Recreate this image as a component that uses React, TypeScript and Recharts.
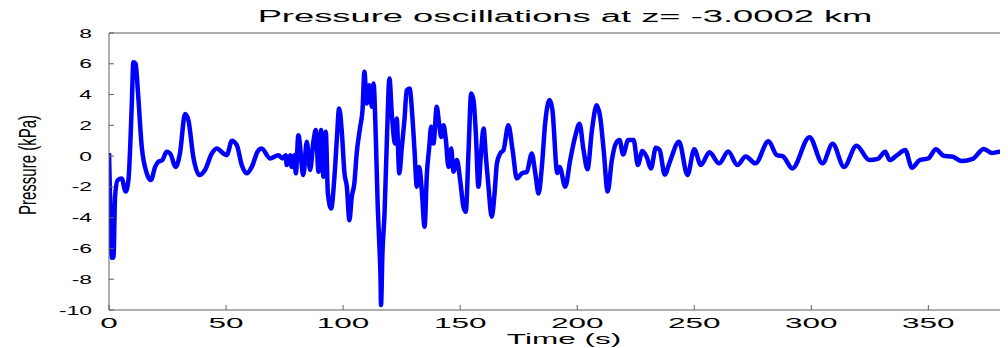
import React from "react";
import { LineChart, Line, XAxis, YAxis } from "recharts";

// Pressure trace (time in s, pressure in kPa)
const timeSec = [
  0, 0.5, 1.2, 1.9, 2.6, 3.7, 5.4, 7.1, 8.3, 9.7, 10.4, 11.4, 12.3, 14, 16.1, 17.9,
  19.7, 21.1, 22.8, 24.6, 26.1, 28.5, 30.3, 32.5, 33.9, 36, 38.6, 41, 43.9, 46, 48.9,
  50.3, 52.5, 54.6, 56.7, 58.8, 61, 63.5, 65.2, 68.8, 72.4, 74.1, 75.5, 75.9, 77.4, 78,
  79.2, 79.8, 80.9, 83, 84.5, 85.9, 87.3, 88.3, 89.5, 90.6, 91.6, 92.6, 93.5, 94.9, 96.3,
  97.3, 98.3, 99.4, 100.6, 101.6, 102.7, 103.7, 104.8, 105.8, 107.3, 108.3, 109.1, 110.1,
  111.2, 112.3, 113, 114, 114.8, 115.4, 116, 116.2, 116.8, 117.7, 118.7, 119.8, 120.8,
  122.2, 122.9, 124, 125.1, 126.2, 127.2, 128.4, 129.6, 130.5, 131.5, 132.5, 133.6,
  134.8, 135.8, 136.8, 137.6, 138.6, 140, 141, 141.9, 142.9, 143.9, 145, 146.2, 147.1,
  148.6, 150, 151.4, 152.4, 153.6, 154.7, 155.7, 156.7, 157.8, 159, 160, 161, 162.1,
  163.5, 164.7, 165.7, 167.1, 168.5, 170.6, 172.4, 174.2, 176.4, 178.5, 180.6, 182.1,
  183.5, 184.9, 186.3, 188.2, 189.4, 191.5, 192.5, 194.9, 197, 199.1, 201, 202.7, 204.4,
  206.3, 208.3, 209.8, 211.3, 213, 214.8, 216.5, 218.1, 219.6, 221.8, 224.1, 225.9,
  227.8, 229.8, 231.5, 233.6, 235.2, 237.4, 239.5, 243.5, 247.1, 250, 252.8, 256.5,
  260.6, 264.5, 268.4, 272, 276.1, 281.7, 285.3, 287.9, 291.9, 299.2, 304.8, 309.1, 314,
  319.3, 324.8, 328.4, 331.6, 333.5, 336.6, 340.1, 343, 346.3, 350, 353.2, 356.5, 360.4,
  364.2, 369, 373.7, 377.2, 380.4, 383.6, 386,
];

const pressureKPa = [
  0.2, -3, -6.6, -6.6, -2.6, -1.56, -1.45, -2.3, -1.55, 3.2, 6.1, 6.0, 4.3, 0.6, -1.1, -1.56,
  -0.7, -0.37, -0.26, 0.28, 0.17, -0.7, 0.17, 2.73, 2.34, -0.04, -1.23, -0.9, 0.17, 0.5, 0.17,
  0.06, 1.0, 0.71, -0.58, -1.12, -0.7, 0.3, 0.5, -0.15, 0.06, -0.15, 0.06, -0.58, 0.06, -0.7,
  0.06, -1.12, 1.36, -1.23, 0.93, -0.9, 0.93, 1.69, -1.02, 1.69, -1.34, 1.58, -2.43, -3.4, -1.34,
  1.04, 3.1, 1.69, -1.12, -1.99, -4.16, -2.64, -1.77, 0.17, 1.9, 3.0, 5.48, 3.42,
  4.61, 3.2, 4.72, 1.04, -3.29, -5.46, -8.06, -9.68, -6.32, -3.72, 1.04, 5.05, 2.77,
  0.82, 2.45, -1.12, 0.6, 2.34, 4.29, 4.4, 2.55, 0.39, -1.99, -0.7, -2.21,
  -4.59, -1.12, 0.6, 1.9, 0.82, 3.2, 2.12, 1.25, 2.0, 1.04, -0.7, 0.5, -1.02,
  -0.26, -1.56, -3.29, -3.62, 0.39, 4.07, 3.64, 1.47, -1.99, 0.39, 1.8, -0.04, -1.99,
  -3.94, -2.43, -0.47, 0.17, 0.39, 2.0, 0.39, -1.45, -1.12, -1.02, 0.17, -1.12,
  -2.43, -0.7, 2.12, 3.64, 3.0, -1.1, -0.7, -1.99, -0.26, 1.25, 2.1, 0.39, -0.85,
  1.69, 3.3, 2.55, 0.39, -2.3, -0.26, 0.82, 1.04, 0.1, 1.04, 1.04, -0.58,
  0.33, -0.1, -0.8, 0.55, 0.4, -1.2, -0.4, 0.93, -1.23, 0.45, -0.58, 0.25,
  -0.47, 0.3, -0.58, -0.02, -0.47, 0.96, 0.06, -0.02, -0.8, 1.23, -0.47, 0.8, -0.7,
  0.68, -0.26, -0.18, 0.28, -0.26, 0.06, 0.39, -0.75, -0.26, -0.15, 0.45, 0.02, -0.04,
  -0.32, -0.18, 0.47, 0.2, 0.28, 0.1, 0.05,
];

const xTicks = [0, 50, 100, 150, 200, 250, 300, 350];
const yTicks = [-10, -8, -6, -4, -2, 0, 2, 4, 6, 8];

const data = timeSec.map((t, i) => ({ t, p: pressureKPa[i] }));

const FONT = '"Liberation Sans", Arial, Helvetica, sans-serif';
const AXIS_GRAY = "#606060";

function XTick({ x, y, payload }: any) {
  return (
    <text
      transform={`translate(${x},${y + 18}) scale(2.1,1)`}
      textAnchor="middle"
      fontSize={15}
      fontFamily={FONT}
      fill="#000"
    >
      {payload.value}
    </text>
  );
}

function YTick({ x, y, payload }: any) {
  return (
    <text
      transform={`translate(${x},${y + 4.5}) scale(1.9,1)`}
      textAnchor="end"
      fontSize={12}
      fontFamily={FONT}
      fill="#000"
    >
      {payload.value}
    </text>
  );
}

const labelBase: React.CSSProperties = {
  position: "absolute",
  whiteSpace: "nowrap",
  lineHeight: 1,
  fontFamily: FONT,
  color: "#000",
};

export default function App() {
  return (
    <div
      style={{
        position: "relative",
        width: 1008,
        height: 348,
        marginLeft: -8,
        marginTop: -8,
        overflow: "hidden",
        background: "#fff",
      }}
    >
      <LineChart
        width={1022}
        height={348}
        data={data}
        margin={{ top: 32, right: 0, bottom: 0, left: 0 }}
      >
        <XAxis
          xAxisId="top"
          orientation="top"
          dataKey="t"
          type="number"
          domain={[0, 390]}
          ticks={xTicks}
          height={1}
          tick={false}
          tickSize={-5}
          stroke={AXIS_GRAY}
          allowDataOverflow
        />
        <XAxis
          dataKey="t"
          type="number"
          domain={[0, 390]}
          ticks={xTicks}
          height={38}
          tickSize={-5}
          tickMargin={5}
          tick={<XTick />}
          stroke={AXIS_GRAY}
          allowDataOverflow
        />
        <YAxis
          type="number"
          domain={[-10, 8]}
          ticks={yTicks}
          width={109}
          tickSize={-5}
          tickMargin={22}
          tick={<YTick />}
          stroke={AXIS_GRAY}
          allowDataOverflow
        />
        <Line
          type="monotone"
          dataKey="p"
          stroke="#0000ff"
          strokeWidth={4.5}
          strokeLinejoin="round"
          dot={false}
          isAnimationActive={false}
        />
      </LineChart>

      <div
        style={{
          ...labelBase,
          left: 565,
          top: 17,
          fontSize: 16,
          transform: "translate(-50%,-50%) scaleX(2.27)",
        }}
      >
        Pressure oscillations at z= -3.0002 km
      </div>
      <div
        style={{
          ...labelBase,
          left: 564,
          top: 338,
          fontSize: 15,
          transform: "translate(-50%,-50%) scaleX(2.1)",
        }}
      >
        Time (s)
      </div>
      <div
        style={{
          ...labelBase,
          left: 27,
          top: 165,
          fontSize: 15,
          transform: "translate(-50%,-50%) rotate(-90deg) scaleY(1.65)",
        }}
      >
        Pressure (kPa)
      </div>
    </div>
  );
}
